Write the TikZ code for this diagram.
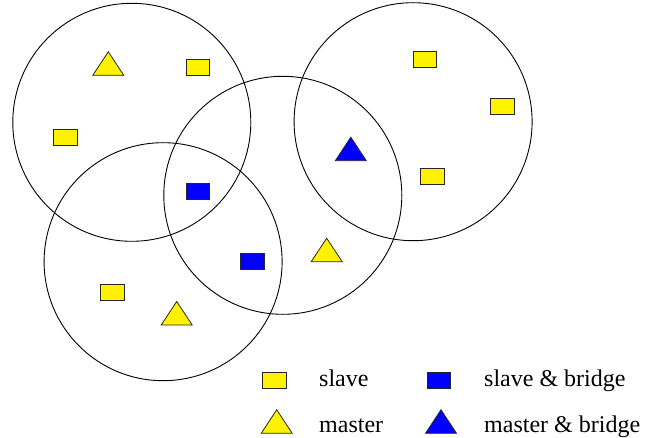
\documentclass[tikz,border=0pt]{standalone}
\usepackage{fontspec}
\setmainfont{Liberation Serif}
\begin{document}
\begin{tikzpicture}[x=1pt,y=-1pt,
  cell/.style={draw=black,line width=0.9pt},
  dev/.style={draw=black!85,line width=0.8pt},
  slavebox/.style={dev,fill=yellow,rectangle,minimum width=23.5pt,minimum height=16pt,inner sep=0pt},
  bridgebox/.style={slavebox,fill=blue},
  label/.style={anchor=base west,inner sep=0pt,font=\fontsize{24}{28}\selectfont},
  pics/mastertri/.style={code={\path[dev,fill=#1] (-15.5,0) -- (0,-23.5) -- (15.5,0) -- cycle;}}
]
\useasboundingbox (0,0) rectangle (663,438);

% piconet ranges
\draw[cell] (131.8,122.3) circle[radius=119];
\draw[cell] (282.8,195.3) circle[radius=119];
\draw[cell] (413.1,121.7) circle[radius=119];
\draw[cell] (163.1,261.7) circle[radius=119];

% masters (apex above, base at the given point)
\pic (m1) at (108.3,75.3) {mastertri=yellow};
\pic (m2) at (326.7,261.7) {mastertri=yellow};
\pic (m3) at (176.7,325) {mastertri=yellow};
\pic (mb1) at (350.8,160.7) {mastertri=blue};

% slaves
\node[slavebox] (s1) at (197.9,67.3) {};
\node[slavebox] (s2) at (65.5,137) {};
\node[slavebox] (s3) at (424.8,59.5) {};
\node[slavebox] (s4) at (502.5,106.2) {};
\node[slavebox] (s5) at (432.4,176.2) {};
\node[slavebox] (s6) at (112.3,292.8) {};

% slave bridges
\node[bridgebox] (sb1) at (198,191.5) {};
\node[bridgebox] (sb2) at (252.5,261.5) {};

% legend
\node[slavebox] (ls) at (274.5,380) {};
\node[bridgebox] (lsb) at (439,380) {};
\pic (lm) at (276.7,433.3) {mastertri=yellow};
\pic (lmb) at (441,433.3) {mastertri=blue};
\node[label] (tls) at (319,386) {slave};
\node[label] (tlsb) at (484,386) {slave \& bridge};
\node[label] (tlm) at (319,432) {master};
\node[label] (tlmb) at (484,432) {master \& bridge};
\end{tikzpicture}
\end{document}
